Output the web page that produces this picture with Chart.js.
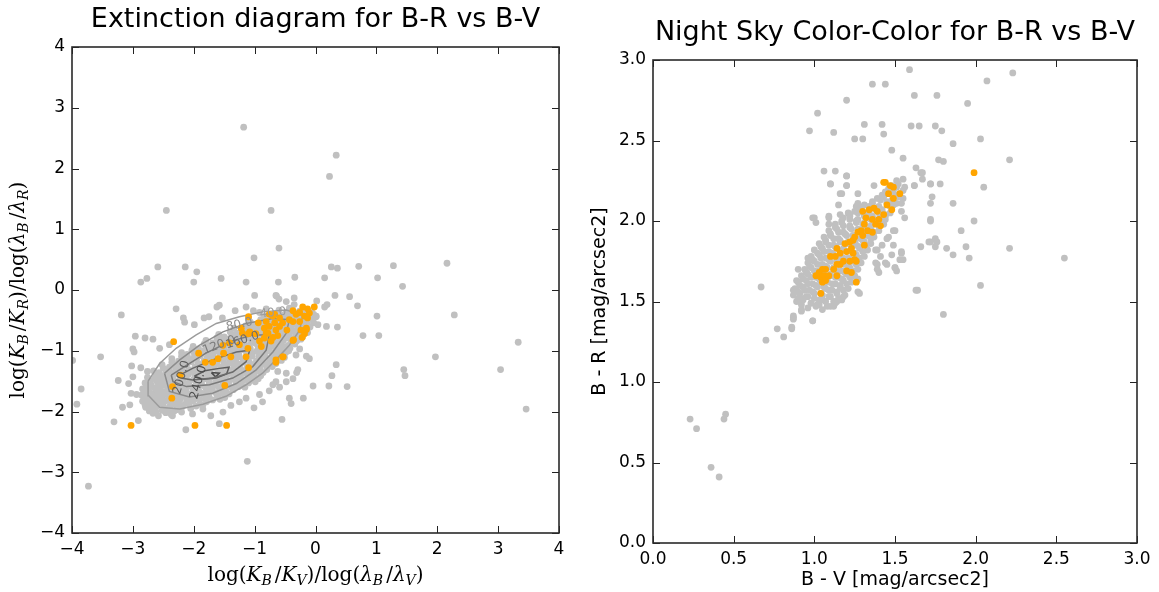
<!DOCTYPE html>
<html>
<head>
<meta charset="utf-8">
<title>Extinction diagram / Night Sky Color-Color</title>
<script src="https://cdn.jsdelivr.net/npm/chart.js@4.4.1/dist/chart.umd.min.js"></script>
<style>
  html, body { margin: 0; padding: 0; background: #fff; }
  #wrap { position: relative; width: 1159px; height: 592px; overflow: hidden; }
  canvas { position: absolute; top: 0; }
  #left { left: 0; }
  #right { left: 580px; }
</style>
</head>
<body>
<div id="wrap">
  <canvas id="left" width="580" height="592"></canvas>
  <canvas id="right" width="579" height="592"></canvas>
</div>
<script>
'use strict';

/* ============ data: extinction diagram (left) ============ */

const extTicks = [-4, -3, -2, -1, 0, 1, 2, 3, 4];

// scattered nights outside the dense core
const extGrayOut = [
  [-1.18,2.68],[0.34,2.22],[0.23,1.87],[-2.45,1.31],[-0.73,1.31],[-0.6,0.69],[-1.01,0.53],[-2.59,0.38],
  [-2.14,0.38],[-1.95,0.3],[-2.87,0.13],[-2.77,0.19],[-2.0,0.13],[-1.55,0.19],[-1.14,0.13],[-0.61,0.13],
  [-0.34,0.21],[0.26,0.38],[0.36,0.36],[0.71,0.39],[1.28,0.4],[2.16,0.44],[1.02,0.2],[1.43,0.06],
  [0.15,0.2],[-1.0,-0.09],[-0.64,-0.1],[0.32,-0.09],[0.56,-0.11],[0.69,-0.26],[0.19,-0.24],[0.02,-0.18],
  [1.01,-0.43],[2.28,-0.41],[0.78,-0.75],[1.04,-0.75],[0.36,-0.61],[0.18,-0.6],[3.33,-0.86],[1.97,-1.1],
  [1.45,-1.31],[1.47,-1.41],[3.04,-1.31],[3.46,-1.96],[0.34,-1.23],[0.27,-1.41],[0.52,-1.59],[0.22,-1.58],
  [-0.04,-1.58],[-0.2,-1.78],[-0.55,-2.13],[-0.4,-1.87],[-1.12,-2.82],[-3.73,-3.23],[-3.85,-1.63],[-3.92,-1.88],
  [-3.53,-1.1],[-3.99,-1.16],[-3.19,-0.41],[-2.96,-0.76],[-3.31,-2.17],[-2.91,-2.15],[-3.17,-1.93],[-3.24,-1.49],
  [-3.07,-1.54],[-3.03,-1.7],[-3.05,-1.89],[-3.02,-1.25],[-3.0,-1.43],[-2.13,-2.3],[-1.58,-2.2],
  [-2.29,-0.31],[-2.17,-0.46],[-2.15,-0.53],[-1.99,-0.57],[-1.83,-0.46],[-1.75,-0.44],[-1.62,-0.28],[-1.58,-0.25],
  [-1.53,-0.46],[-1.32,-0.34],[-1.1,-0.47],[-1.02,-0.34],[-0.81,-0.31],[-0.65,-0.09],[-0.6,-0.15],[-0.35,-0.13],
  [-0.35,-0.24],[-0.43,-0.3],[-0.15,-0.49],[-0.04,-0.47],[0.04,-0.57],[0.01,-0.44],[-0.37,-0.84],[-0.26,-0.97],
  [-0.32,-1.07],[-0.15,-1.09],[-0.1,-1.13],[-0.29,-1.31],[-0.31,-1.36],[-0.48,-1.37],[-0.62,-1.34],[-0.65,-1.51],
  [-0.7,-1.56],[-0.76,-1.66],[-0.92,-1.72],[-1.01,-1.94],[-1.25,-1.84],[-2.8,-0.79],[-2.67,-0.81],[-2.56,-0.96],
  [-2.4,-0.9],[-3.0,-0.97],[-2.98,-1.02],[-2.87,-1.28],[-2.76,-1.34],[-2.94,-1.72],[-2.81,-1.84],[-2.65,-1.96],
  [-2.46,-2.01],[-2.35,-2.07],[-2.02,-2.04],[-1.85,-1.96],[-1.72,-2.07],[-1.52,-2.01],[-1.39,-1.9],[-1.14,-1.78],
  [-0.87,-1.84],[-0.59,-1.6],[-0.48,-1.51],[-0.37,-1.46],[-0.43,-1.78],[-1.14,-0.28],[-0.92,-0.37],[-0.48,-0.19],
  [0.15,-0.28]
];

// the dense band of nights
const extGrayCore = [
  [-2.67,-2.03],[-2.58,-2.07],[-2.46,-2.02],[-2.37,-2.05],
  [-2.79,-1.93],[-2.69,-1.98],[-2.61,-1.92],[-2.5,-1.96],[-2.41,-1.95],[-2.28,-1.97],[-2.19,-1.92],[-2.05,-1.95],
  [-2.84,-1.83],[-2.75,-1.88],[-2.64,-1.84],[-2.56,-1.85],[-2.45,-1.82],[-2.34,-1.88],[-2.25,-1.84],[-2.12,-1.85],[-2.03,-1.83],[-1.9,-1.88],[-1.79,-1.84],
  [-2.86,-1.73],[-2.77,-1.76],[-2.69,-1.74],[-2.57,-1.75],[-2.48,-1.72],[-2.4,-1.77],[-2.27,-1.74],[-2.19,-1.75],[-2.06,-1.73],[-1.97,-1.78],[-1.84,-1.72],[-1.75,-1.76],[-1.61,-1.75],[-1.49,-1.77],
  [-2.84,-1.63],[-2.74,-1.66],[-2.62,-1.64],[-2.54,-1.67],[-2.42,-1.63],[-2.34,-1.65],[-2.22,-1.62],[-2.13,-1.67],[-2.01,-1.64],[-1.92,-1.65],[-1.79,-1.63],[-1.7,-1.66],[-1.57,-1.62],[-1.47,-1.67],[-1.35,-1.64],
  [-2.8,-1.53],[-2.7,-1.56],[-2.58,-1.54],[-2.5,-1.57],[-2.37,-1.52],[-2.29,-1.56],[-2.16,-1.54],[-2.08,-1.57],[-1.96,-1.53],[-1.87,-1.56],[-1.74,-1.54],[-1.65,-1.57],[-1.52,-1.53],[-1.43,-1.56],[-1.3,-1.54],[-1.21,-1.57],[-1.1,-1.53],
  [-2.76,-1.44],[-2.64,-1.46],[-2.55,-1.43],[-2.43,-1.47],[-2.34,-1.44],[-2.22,-1.46],[-2.13,-1.42],[-2.0,-1.47],[-1.92,-1.44],[-1.79,-1.46],[-1.7,-1.43],[-1.57,-1.47],[-1.48,-1.43],[-1.35,-1.46],[-1.26,-1.44],[-1.13,-1.47],[-1.04,-1.43],[-0.94,-1.46],
  [-2.66,-1.33],[-2.57,-1.36],[-2.45,-1.34],[-2.36,-1.37],[-2.24,-1.33],[-2.15,-1.35],[-2.03,-1.34],[-1.94,-1.37],[-1.82,-1.32],[-1.73,-1.36],[-1.6,-1.34],[-1.51,-1.37],[-1.39,-1.33],[-1.3,-1.35],[-1.17,-1.34],[-1.08,-1.37],[-0.95,-1.33],[-0.86,-1.36],
  [-2.52,-1.23],[-2.4,-1.27],[-2.32,-1.24],[-2.19,-1.25],[-2.11,-1.22],[-1.98,-1.27],[-1.89,-1.24],[-1.77,-1.25],[-1.68,-1.23],[-1.55,-1.27],[-1.47,-1.24],[-1.34,-1.26],[-1.25,-1.22],[-1.12,-1.27],[-1.03,-1.24],[-0.91,-1.25],[-0.82,-1.23],[-0.71,-1.26],
  [-2.36,-1.13],[-2.25,-1.17],[-2.16,-1.14],[-2.04,-1.16],[-1.95,-1.12],[-1.83,-1.17],[-1.74,-1.14],[-1.61,-1.15],[-1.53,-1.13],[-1.4,-1.17],[-1.31,-1.14],[-1.18,-1.16],[-1.1,-1.12],[-0.97,-1.17],[-0.88,-1.14],[-0.75,-1.15],[-0.67,-1.13],[-0.56,-1.16],
  [-2.2,-1.03],[-2.11,-1.06],[-1.99,-1.04],[-1.9,-1.07],[-1.78,-1.03],[-1.69,-1.05],[-1.56,-1.04],[-1.48,-1.07],[-1.35,-1.02],[-1.26,-1.06],[-1.13,-1.04],[-1.05,-1.05],[-0.92,-1.03],[-0.83,-1.07],[-0.7,-1.04],[-0.61,-1.05],[-0.49,-1.03],
  [-2.01,-0.93],[-1.92,-0.97],[-1.8,-0.94],[-1.71,-0.95],[-1.58,-0.93],[-1.5,-0.97],[-1.37,-0.94],[-1.28,-0.96],[-1.16,-0.92],[-1.07,-0.97],[-0.94,-0.94],[-0.85,-0.95],[-0.73,-0.93],[-0.64,-0.97],[-0.51,-0.94],[-0.42,-0.96],
  [-1.8,-0.83],[-1.69,-0.87],[-1.6,-0.84],[-1.47,-0.85],[-1.39,-0.82],[-1.26,-0.87],[-1.17,-0.84],[-1.05,-0.86],[-0.96,-0.83],[-0.83,-0.87],[-0.74,-0.84],[-0.61,-0.85],[-0.53,-0.83],[-0.4,-0.87],[-0.31,-0.84],
  [-1.59,-0.73],[-1.5,-0.77],[-1.37,-0.74],[-1.29,-0.75],[-1.16,-0.73],[-1.07,-0.77],[-0.95,-0.74],[-0.86,-0.76],[-0.73,-0.72],[-0.64,-0.77],[-0.52,-0.74],[-0.43,-0.75],[-0.3,-0.73],[-0.21,-0.77],
  [-1.34,-0.63],[-1.22,-0.67],[-1.13,-0.64],[-1.01,-0.65],[-0.92,-0.63],[-0.79,-0.67],[-0.71,-0.64],[-0.58,-0.66],[-0.49,-0.62],[-0.36,-0.67],[-0.28,-0.64],[-0.16,-0.65],
  [-1.07,-0.53],[-0.98,-0.57],[-0.86,-0.54],[-0.77,-0.55],[-0.64,-0.53],[-0.56,-0.57],[-0.43,-0.54],[-0.34,-0.56],[-0.21,-0.52],[-0.13,-0.57],[-0.03,-0.54],
  [-0.84,-0.43],[-0.72,-0.47],[-0.63,-0.44],[-0.51,-0.45],[-0.42,-0.43],[-0.29,-0.47],[-0.2,-0.44],[-0.08,-0.46],[0.01,-0.43],
  [-0.6,-0.33],[-0.48,-0.37],[-0.39,-0.34],[-0.26,-0.35],[-0.17,-0.33],[-0.06,-0.37]
];

// more nights sitting between the rows above (the core is nearly solid)
const extGrayFill = [
  [-2.73,-1.99],[-2.62,-2.01],[-2.52,-1.98],[-2.41,-2.0],[-2.32,-1.99],[-2.2,-2.01],
  [-2.8,-1.89],[-2.7,-1.91],[-2.59,-1.88],[-2.5,-1.9],[-2.39,-1.91],[-2.29,-1.89],[-2.18,-1.9],[-2.08,-1.88],[-1.96,-1.91],[-1.85,-1.89],
  [-2.81,-1.79],[-2.72,-1.81],[-2.61,-1.78],[-2.52,-1.8],[-2.42,-1.81],[-2.31,-1.79],[-2.22,-1.8],[-2.11,-1.78],[-2.0,-1.81],[-1.9,-1.8],[-1.8,-1.79],[-1.69,-1.81],[-1.57,-1.8],
  [-2.8,-1.69],[-2.69,-1.71],[-2.59,-1.7],[-2.48,-1.68],[-2.38,-1.71],[-2.28,-1.69],[-2.17,-1.7],[-2.07,-1.71],[-1.96,-1.68],[-1.86,-1.7],[-1.75,-1.71],[-1.64,-1.69],[-1.53,-1.7],[-1.42,-1.71],
  [-2.77,-1.59],[-2.65,-1.61],[-2.55,-1.6],[-2.44,-1.58],[-2.34,-1.61],[-2.23,-1.59],[-2.12,-1.6],[-2.02,-1.61],[-1.92,-1.58],[-1.81,-1.6],[-1.7,-1.61],[-1.59,-1.59],[-1.48,-1.6],[-1.37,-1.61],[-1.26,-1.59],[-1.16,-1.6],
  [-2.72,-1.49],[-2.6,-1.51],[-2.5,-1.5],[-2.39,-1.48],[-2.28,-1.51],[-2.18,-1.49],[-2.07,-1.5],[-1.96,-1.51],[-1.86,-1.48],[-1.75,-1.5],[-1.64,-1.51],[-1.53,-1.49],[-1.42,-1.5],[-1.31,-1.51],[-1.2,-1.49],[-1.09,-1.5],[-0.99,-1.51],
  [-2.62,-1.39],[-2.51,-1.41],[-2.4,-1.4],[-2.3,-1.38],[-2.19,-1.41],[-2.09,-1.39],[-1.98,-1.4],[-1.87,-1.41],[-1.77,-1.38],[-1.66,-1.4],[-1.55,-1.41],[-1.44,-1.39],[-1.34,-1.4],[-1.23,-1.41],[-1.12,-1.39],[-1.01,-1.4],[-0.9,-1.41],
  [-2.5,-1.29],[-2.4,-1.31],[-2.29,-1.3],[-2.19,-1.28],[-2.08,-1.31],[-1.97,-1.29],[-1.87,-1.3],[-1.76,-1.31],[-1.66,-1.28],[-1.55,-1.3],[-1.44,-1.31],[-1.34,-1.29],[-1.23,-1.3],[-1.12,-1.31],[-1.01,-1.29],[-0.91,-1.3],[-0.8,-1.31],
  [-2.36,-1.19],[-2.25,-1.21],[-2.15,-1.2],[-2.04,-1.18],[-1.93,-1.21],[-1.83,-1.19],[-1.72,-1.2],[-1.62,-1.21],[-1.51,-1.18],[-1.4,-1.2],[-1.3,-1.21],[-1.19,-1.19],[-1.08,-1.2],[-0.98,-1.21],[-0.87,-1.19],[-0.76,-1.2],[-0.65,-1.21],
  [-2.2,-1.09],[-2.1,-1.11],[-1.99,-1.1],[-1.89,-1.08],[-1.78,-1.11],[-1.68,-1.09],[-1.57,-1.1],[-1.46,-1.11],[-1.36,-1.08],[-1.25,-1.1],[-1.14,-1.11],[-1.04,-1.09],[-0.93,-1.1],[-0.82,-1.11],[-0.71,-1.09],[-0.61,-1.1],[-0.51,-1.11],
  [-2.03,-0.99],[-1.93,-1.01],[-1.82,-1.0],[-1.72,-0.98],[-1.61,-1.01],[-1.51,-0.99],[-1.4,-1.0],[-1.29,-1.01],[-1.19,-0.98],[-1.08,-1.0],[-0.97,-1.01],[-0.87,-0.99],[-0.76,-1.0],[-0.65,-1.01],[-0.55,-0.99],[-0.44,-1.0],
  [-1.83,-0.89],[-1.73,-0.91],[-1.62,-0.9],[-1.52,-0.88],[-1.41,-0.91],[-1.3,-0.89],[-1.2,-0.9],[-1.09,-0.91],[-0.98,-0.88],[-0.88,-0.9],[-0.77,-0.91],[-0.66,-0.89],[-0.56,-0.9],[-0.45,-0.91],[-0.34,-0.89],
  [-1.62,-0.79],[-1.52,-0.81],[-1.41,-0.8],[-1.31,-0.78],[-1.2,-0.81],[-1.1,-0.79],[-0.99,-0.8],[-0.88,-0.81],[-0.78,-0.78],[-0.67,-0.8],[-0.56,-0.81],[-0.46,-0.79],[-0.35,-0.8],[-0.24,-0.81],
  [-1.4,-0.69],[-1.29,-0.71],[-1.18,-0.7],[-1.08,-0.68],[-0.97,-0.71],[-0.86,-0.69],[-0.76,-0.7],[-0.65,-0.71],[-0.54,-0.68],[-0.44,-0.7],[-0.33,-0.71],[-0.22,-0.69],[-0.13,-0.7],
  [-1.15,-0.59],[-1.04,-0.61],[-0.94,-0.6],[-0.83,-0.58],[-0.72,-0.61],[-0.62,-0.59],[-0.51,-0.6],[-0.4,-0.61],[-0.3,-0.58],[-0.19,-0.6],[-0.09,-0.61],
  [-0.9,-0.49],[-0.79,-0.51],[-0.68,-0.5],[-0.58,-0.48],[-0.47,-0.51],[-0.36,-0.49],[-0.26,-0.5],[-0.15,-0.51],[-0.05,-0.49],
  [-0.66,-0.39],[-0.55,-0.41],[-0.44,-0.4],[-0.34,-0.38],[-0.23,-0.41],[-0.12,-0.39],[-0.03,-0.4]
];

// nights flagged in orange
const extOrange = [
  [-3.03,-2.23],[-1.98,-2.23],[-1.46,-2.23],[-1.49,-1.57],[-2.33,-0.85],[-2.35,-1.59],[-2.36,-1.78],[-2.22,-1.4],
  [-1.92,-1.04],[-1.81,-1.19],[-1.69,-1.19],[-1.6,-1.13],[-1.51,-1.04],[-1.39,-1.1],[-1.52,-0.91],[-1.41,-0.87],
  [-1.25,-0.9],[-1.22,-0.63],[-1.1,-0.44],[-1.1,-0.72],[-1.1,-1.28],[-0.94,-0.54],[-0.98,-0.72],[-0.92,-0.84],
  [-0.89,-0.93],[-1.14,-1.1],[-1.11,-0.96],[-1.2,-0.71],[-1.08,-0.69],[-0.81,-0.71],[-0.65,-1.15],[-0.54,-1.1],
  [-0.84,-0.63],[-0.81,-0.52],[-0.76,-0.4],[-0.7,-0.43],[-0.67,-0.54],[-0.65,-0.66],[-0.62,-0.75],[-0.7,-0.78],
  [-0.76,-0.6],[-0.59,-0.6],[-0.54,-0.54],[-0.67,-0.4],[-0.78,-0.71],[-0.84,-0.79],[-0.73,-0.84],[-0.65,-1.19],
  [-0.53,-1.1],[-0.37,-0.34],[-0.32,-0.4],[-0.26,-0.37],[-0.18,-0.43],[-0.13,-0.31],[-0.21,-0.28],[-0.02,-0.28],
  [-0.1,-0.38],[-0.13,-0.46],[-0.26,-0.52],[-0.37,-0.52],[-0.43,-0.49],[-0.24,-0.66],[-0.18,-0.72],[-0.15,-0.63],
  [-0.37,-0.83],[-0.22,-0.78],[-0.47,-0.66],[-0.59,-0.46],[-0.36,-0.82],[-0.15,-0.65]
];

// density contours of the core (levels 40 ... 240)
const extContour40 = [
  [-2.75,-1.5],[-2.56,-1.21],[-2.29,-0.96],[-1.96,-0.74],[-1.63,-0.55],[-1.25,-0.44],[-0.87,-0.36],[-0.48,-0.33],
  [-0.21,-0.41],[-0.26,-0.66],[-0.43,-0.91],[-0.65,-1.15],[-0.87,-1.37],[-1.14,-1.56],[-1.47,-1.75],[-1.85,-1.88],
  [-2.23,-1.96],[-2.56,-1.93],[-2.74,-1.74],[-2.75,-1.5]
];
const extContour80 = [
  [-2.48,-1.37],[-2.23,-1.15],[-1.91,-0.91],[-1.52,-0.69],[-1.14,-0.55],[-0.7,-0.47],[-0.43,-0.49],[-0.48,-0.71],
  [-0.7,-1.02],[-0.98,-1.32],[-1.3,-1.54],[-1.69,-1.7],[-2.07,-1.76],[-2.4,-1.67],[-2.48,-1.37]
];
const extContour120 = [
  [-2.37,-1.4],[-2.12,-1.24],[-1.8,-1.04],[-1.41,-0.85],[-1.03,-0.74],[-0.76,-0.74],[-0.81,-0.99],[-1.03,-1.26],
  [-1.36,-1.45],[-1.74,-1.56],[-2.12,-1.59],[-2.34,-1.51],[-2.37,-1.4]
];
const extContour160 = [
  [-2.23,-1.4],[-2.02,-1.29],[-1.69,-1.15],[-1.3,-1.02],[-1.08,-0.99],[-1.14,-1.18],[-1.36,-1.35],[-1.69,-1.45],
  [-2.02,-1.48],[-2.21,-1.45],[-2.23,-1.4]
];
const extContour200 = [
  [-1.99,-1.42],[-1.82,-1.33],[-1.58,-1.29],[-1.42,-1.27],[-1.46,-1.38],[-1.63,-1.45],[-1.85,-1.47],[-1.99,-1.42]
];
const extContour240 = [
  [-1.71,-1.36],[-1.58,-1.37],[-1.64,-1.43],[-1.71,-1.36]
];
const extContourLevels = ['40.0', '80.0', '120.0', '160.0', '200.0', '240.0'];
const extContourColors = ['#9c9c9c', '#8c8c8c', '#7b7b7b', '#6b6b6b', '#5c5c5c', '#4c4c4c'];
// where matplotlib placed the inline level labels: [x, y, rotation rad]
const extContourLabelAt = [
  [-0.7, -0.38, -0.1], [-1.25, -0.57, -0.22], [-1.58, -0.91, -0.35], [-1.2, -0.83, -0.3],
  [-2.2, -1.44, -1.3], [-1.92, -1.52, -1.3]
];

/* ============ data: night sky color-color (right) ============ */

const nsTicks = [0, 0.5, 1.0, 1.5, 2.0, 2.5, 3.0];

const nsGrayOut = [
  [1.59,2.94],[2.23,2.92],[2.07,2.87],[1.36,2.85],[1.44,2.85],[1.2,2.75],[1.62,2.78],[1.76,2.78],[1.95,2.73],
  [1.02,2.67],[1.31,2.6],[1.42,2.6],[1.6,2.59],[1.65,2.59],[1.75,2.59],[1.79,2.56],[0.97,2.56],[1.12,2.55],
  [1.25,2.51],[1.3,2.51],[1.43,2.54],[1.86,2.48],[2.03,2.51],[1.48,2.44],[1.55,2.39],[2.21,2.38],[1.77,2.38],
  [1.8,2.37],[1.63,2.33],[1.66,2.3],[1.67,2.26],[1.06,2.31],[1.13,2.31],[1.2,2.28],[1.1,2.23],[1.2,2.22],
  [1.62,2.22],[1.72,2.23],[1.78,2.23],[2.05,2.21],[1.17,2.17],[1.73,2.15],[1.72,2.11],[1.86,2.11],[1.54,2.11],
  [1.26,2.09],[1.54,2.06],[1.56,2.02],[1.72,2.0],[1.99,2.0],[0.99,2.02],[1.01,1.99],[1.09,2.02],[1.91,1.94],
  [1.49,1.94],[1.45,1.89],[1.71,1.87],[1.75,1.89],[1.75,1.84],[1.82,1.83],[1.94,1.84],[2.21,1.83],[1.86,1.79],
  [1.96,1.77],[2.55,1.77],[1.49,1.85],[1.38,1.82],[1.42,1.85],[1.48,1.79],[1.54,1.8],[1.55,1.76],[1.44,1.74],
  [1.39,1.73],[1.5,1.71],[1.51,1.69],[1.4,1.68],[2.03,1.6],[1.63,1.57],[1.8,1.42],[1.28,1.55],[1.18,1.53],
  [1.12,1.47],[0.67,1.59],[0.7,1.26],[0.81,1.28],[0.77,1.33],[0.86,1.33],[0.87,1.39],[0.87,1.4],[0.92,1.44],
  [0.99,1.38],[0.23,0.77],[0.27,0.71],[0.45,0.8],[0.44,0.77],[0.36,0.47],[0.41,0.41],[0.89,1.57],
  [0.87,1.41],[0.86,1.34],[0.99,1.38],[0.92,1.45],[0.9,1.7],[0.96,1.77],[1.0,2.02],[1.09,2.03],[1.09,1.98],
  [1.1,2.23],[1.2,2.22],[1.16,2.17],[1.2,2.28],[1.15,2.1],[1.16,2.04],[1.27,2.17],[1.37,2.22],[1.62,2.22],
  [1.67,2.3],[1.72,2.23],[1.72,2.01],[1.76,1.87],[1.72,1.87],[1.55,2.14],[1.51,2.11],[1.5,1.94],[1.46,1.9],
  [1.39,1.82],[1.41,1.78],[1.38,1.74],[1.39,1.7],[1.45,1.73],[1.5,1.71],[1.54,1.81],[1.53,1.76],[1.27,1.64],
  [1.27,1.56],[1.14,1.5],[1.02,1.48],[0.92,1.52],[0.87,1.57],[0.89,1.63],[1.64,1.57],[1.21,2.05],[1.27,2.11],
  [1.66,1.84]
];

const nsGrayCore = [
  [0.96,1.46],[1.01,1.47],[1.05,1.45],[1.1,1.47],
  [0.89,1.5],[0.93,1.51],[0.98,1.49],[1.03,1.51],[1.07,1.5],[1.12,1.5],[1.17,1.51],
  [0.87,1.54],[0.91,1.55],[0.96,1.53],[1.0,1.55],[1.05,1.54],[1.09,1.53],[1.14,1.55],[1.19,1.54],
  [0.88,1.58],[0.93,1.59],[0.97,1.57],[1.02,1.59],[1.07,1.58],[1.11,1.57],[1.16,1.59],[1.21,1.58],
  [0.9,1.62],[0.95,1.63],[0.99,1.61],[1.04,1.63],[1.08,1.62],[1.13,1.61],[1.18,1.63],[1.23,1.62],
  [0.92,1.66],[0.96,1.67],[1.01,1.65],[1.06,1.67],[1.1,1.66],[1.15,1.65],[1.2,1.67],[1.25,1.66],
  [0.94,1.7],[0.98,1.71],[1.03,1.69],[1.08,1.71],[1.12,1.7],[1.17,1.69],[1.22,1.71],[1.27,1.7],
  [0.96,1.74],[1.0,1.75],[1.05,1.73],[1.1,1.75],[1.14,1.74],[1.19,1.73],[1.24,1.75],[1.29,1.74],
  [0.98,1.78],[1.03,1.79],[1.07,1.77],[1.12,1.79],[1.16,1.78],[1.21,1.77],[1.26,1.79],[1.31,1.78],
  [1.0,1.82],[1.05,1.83],[1.09,1.81],[1.14,1.83],[1.18,1.82],[1.23,1.81],[1.28,1.83],[1.33,1.82],
  [1.03,1.86],[1.07,1.87],[1.12,1.85],[1.16,1.87],[1.21,1.86],[1.26,1.85],[1.31,1.87],[1.35,1.86],
  [1.06,1.9],[1.1,1.91],[1.15,1.89],[1.2,1.91],[1.24,1.9],[1.29,1.89],[1.33,1.91],[1.37,1.9],
  [1.09,1.94],[1.14,1.95],[1.18,1.93],[1.23,1.95],[1.27,1.94],[1.31,1.93],[1.35,1.95],[1.4,1.94],
  [1.13,1.98],[1.17,1.99],[1.22,1.97],[1.26,1.99],[1.3,1.98],[1.35,1.97],[1.39,1.99],[1.43,1.98],
  [1.18,2.02],[1.22,2.03],[1.27,2.01],[1.31,2.03],[1.36,2.02],[1.4,2.01],[1.44,2.03],
  [1.25,2.06],[1.29,2.07],[1.34,2.05],[1.38,2.07],[1.42,2.06],[1.47,2.05],
  [1.31,2.1],[1.36,2.11],[1.4,2.09],[1.45,2.11],[1.49,2.1],
  [1.39,2.14],[1.43,2.15],[1.48,2.13],[1.52,2.15],
  [1.44,2.18],[1.49,2.19],[1.53,2.17],
  [1.48,2.22],[1.52,2.23],[1.56,2.21],
  [1.51,2.25],[1.55,2.26]
];

const nsGrayFill = [
  [0.92,1.48],[0.98,1.49],[1.03,1.48],[1.08,1.47],[1.13,1.49],
  [0.9,1.52],[0.95,1.53],[1.0,1.52],[1.05,1.51],[1.1,1.53],[1.15,1.52],
  [0.9,1.56],[0.94,1.57],[0.99,1.56],[1.04,1.55],[1.09,1.57],[1.14,1.56],[1.18,1.57],
  [0.91,1.6],[0.96,1.61],[1.01,1.6],[1.06,1.59],[1.11,1.61],[1.16,1.6],[1.2,1.61],
  [0.93,1.64],[0.98,1.65],[1.03,1.64],[1.08,1.63],[1.13,1.65],[1.17,1.64],[1.22,1.65],
  [0.95,1.68],[1.0,1.69],[1.05,1.68],[1.1,1.67],[1.14,1.69],[1.19,1.68],[1.24,1.69],
  [0.97,1.72],[1.02,1.73],[1.07,1.72],[1.12,1.71],[1.16,1.73],[1.21,1.72],[1.26,1.73],
  [0.99,1.76],[1.04,1.77],[1.09,1.76],[1.14,1.75],[1.18,1.77],[1.23,1.76],[1.28,1.77],
  [1.02,1.8],[1.06,1.81],[1.11,1.8],[1.16,1.79],[1.2,1.81],[1.25,1.8],[1.3,1.81],
  [1.04,1.84],[1.09,1.85],[1.13,1.84],[1.18,1.83],[1.23,1.85],[1.28,1.84],[1.32,1.85],
  [1.07,1.88],[1.12,1.89],[1.16,1.88],[1.21,1.87],[1.26,1.89],[1.3,1.88],[1.35,1.89],
  [1.1,1.92],[1.15,1.93],[1.19,1.92],[1.24,1.91],[1.29,1.93],[1.33,1.92],[1.37,1.93],
  [1.13,1.96],[1.18,1.97],[1.22,1.96],[1.27,1.95],[1.31,1.97],[1.35,1.96],[1.4,1.97],
  [1.17,2.0],[1.22,2.01],[1.26,2.0],[1.31,1.99],[1.35,2.01],[1.4,2.0],[1.44,2.01],
  [1.22,2.04],[1.27,2.05],[1.31,2.04],[1.36,2.03],[1.4,2.05],[1.44,2.04],
  [1.29,2.08],[1.34,2.09],[1.38,2.08],[1.42,2.07],[1.47,2.09],
  [1.36,2.12],[1.41,2.13],[1.45,2.12],[1.5,2.11],
  [1.42,2.16],[1.46,2.17],[1.5,2.16],
  [1.46,2.2],[1.51,2.21],[1.55,2.19]
];

const nsOrange = [
  [1.99,2.3],[1.43,2.24],[1.44,2.24],[1.47,2.22],[1.49,2.21],[1.53,2.17],[1.46,2.17],[1.49,2.14],[1.45,2.1],
  [1.48,2.07],[1.3,2.06],[1.34,2.07],[1.37,2.08],[1.39,2.06],[1.43,2.04],[1.32,2.02],[1.36,2.01],[1.4,2.01],
  [1.38,1.98],[1.41,1.97],[1.31,1.98],[1.29,1.94],[1.33,1.94],[1.36,1.93],[1.27,1.93],[1.3,1.91],[1.25,1.9],
  [1.22,1.87],[1.24,1.88],[1.23,1.83],[1.31,1.85],[1.19,1.86],[1.2,1.81],[1.16,1.8],[1.14,1.83],[1.13,1.78],
  [1.1,1.78],[1.24,1.8],[1.25,1.76],[1.26,1.75],[1.22,1.75],[1.18,1.75],[1.16,1.73],[1.14,1.73],[1.12,1.7],
  [1.07,1.7],[1.05,1.7],[1.03,1.68],[1.01,1.66],[1.04,1.65],[1.06,1.66],[1.09,1.66],[1.14,1.66],[1.05,1.62],
  [1.07,1.63],[1.26,1.62],[1.04,1.55],[1.2,1.69],[1.23,1.68]
];

/* ============ text ============ */

const extTitle = 'Extinction diagram for B-R vs B-V';
const nsTitle = 'Night Sky Color-Color for B-R vs B-V';
const nsXLabel = 'B - V [mag/arcsec2]';
const nsYLabel = 'B - R [mag/arcsec2]';

const SANS = "'DejaVu Sans', sans-serif";
const RM = "20px 'DejaVu Serif', serif";
const IT = "italic 20px 'DejaVu Serif', serif";
const SUB = "italic 14px 'DejaVu Serif', serif";

// log(K_B/K_x)/log(lambda_B/lambda_x) written as mathtext-like pieces
function mathLabel(band) {
  return [
    { text: 'log(', font: RM }, { text: 'K', font: IT }, { text: 'B', font: SUB, dy: 4, gap: 3 },
    { text: '/', font: RM }, { text: 'K', font: IT }, { text: band, font: SUB, dy: 4 },
    { text: ')/log(', font: RM }, { text: 'λ', font: IT }, { text: 'B', font: SUB, dy: 4, gap: 3 },
    { text: '/', font: RM }, { text: 'λ', font: IT }, { text: band, font: SUB, dy: 4 },
    { text: ')', font: RM }
  ];
}

/* ============ helpers ============ */

function pts(list) {
  return list.map(function (p) { return { x: p[0], y: p[1] }; });
}

function drawRich(ctx, parts, x, y, angle) {
  ctx.save();
  ctx.translate(x, y);
  ctx.rotate(angle);
  ctx.textAlign = 'left';
  ctx.textBaseline = 'alphabetic';
  let w = 0;
  parts.forEach(function (p) { ctx.font = p.font; w += ctx.measureText(p.text).width + (p.gap || 0); });
  let cx = -w / 2;
  parts.forEach(function (p) {
    ctx.font = p.font;
    ctx.fillText(p.text, cx, p.dy || 0);
    cx += ctx.measureText(p.text).width + (p.gap || 0);
  });
  ctx.restore();
}

// matplotlib-like frame, inward ticks, title and axis labels
const decor = {
  id: 'decor',
  afterDatasetsDraw(chart, args, o) {
    const ctx = chart.ctx;
    const a = chart.chartArea;
    const xs = chart.scales.x;
    const ys = chart.scales.y;
    ctx.save();

    // contour level labels
    (o.contourLabels || []).forEach(function (l) {
      ctx.save();
      ctx.translate(xs.getPixelForValue(l.x), ys.getPixelForValue(l.y));
      ctx.rotate(l.rot);
      ctx.font = '12px ' + SANS;
      ctx.fillStyle = l.color;
      ctx.textAlign = 'center';
      ctx.textBaseline = 'middle';
      ctx.fillText(l.text, 0, 0);
      ctx.restore();
    });

    // ticks on all four sides, pointing in
    ctx.strokeStyle = '#222';
    ctx.lineWidth = 1;
    ctx.beginPath();
    xs.ticks.forEach(function (t) {
      const px = Math.round(xs.getPixelForValue(t.value)) + 0.5;
      ctx.moveTo(px, a.bottom); ctx.lineTo(px, a.bottom - 7);
      ctx.moveTo(px, a.top); ctx.lineTo(px, a.top + 7);
    });
    ys.ticks.forEach(function (t) {
      const py = Math.round(ys.getPixelForValue(t.value)) + 0.5;
      ctx.moveTo(a.left, py); ctx.lineTo(a.left + 7, py);
      ctx.moveTo(a.right, py); ctx.lineTo(a.right - 7, py);
    });
    ctx.stroke();

    ctx.lineWidth = 1.6;
    ctx.strokeStyle = '#2a2a2a';
    ctx.strokeRect(a.left, a.top, a.right - a.left, a.bottom - a.top);

    // title
    ctx.fillStyle = '#000';
    ctx.font = '27px ' + SANS;
    ctx.textAlign = 'center';
    ctx.textBaseline = 'alphabetic';
    ctx.fillText(o.title, (a.left + a.right) / 2, o.titleBase);

    // axis labels
    const cxm = (a.left + a.right) / 2;
    const cym = (a.top + a.bottom) / 2;
    if (typeof o.xLabel === 'string') {
      ctx.font = '19px ' + SANS;
      ctx.fillText(o.xLabel, cxm, o.xLabelBase);
      ctx.save();
      ctx.translate(o.yLabelBase, cym);
      ctx.rotate(-Math.PI / 2);
      ctx.fillText(o.yLabel, 0, 0);
      ctx.restore();
    } else {
      drawRich(ctx, o.xLabel, cxm, o.xLabelBase, 0);
      drawRich(ctx, o.yLabel, o.yLabelBase, cym, -Math.PI / 2);
    }
    ctx.restore();
  }
};

function axis(min, max, ticks, fmt, size, pad) {
  return {
    type: 'linear',
    min: min,
    max: max,
    afterBuildTicks: function (s) { s.ticks = ticks.map(function (v) { return { value: v }; }); },
    afterFit: function (s) { if (s.isHorizontal()) { s.height = size; } else { s.width = size; } },
    ticks: {
      autoSkip: false,
      maxRotation: 0,
      padding: pad,
      color: '#000',
      font: { family: SANS, size: 17 },
      callback: fmt
    },
    grid: { display: false, drawTicks: false },
    border: { display: false }
  };
}

function scatterSet(list, color, order) {
  return {
    data: pts(list),
    backgroundColor: color,
    borderWidth: 0,
    pointRadius: 3.4,
    pointHoverRadius: 3.4,
    order: order
  };
}

function contourSet(list, color) {
  return {
    data: pts(list),
    showLine: true,
    borderColor: color,
    borderWidth: 1.5,
    pointRadius: 0,
    pointHoverRadius: 0,
    fill: false,
    tension: 0,
    order: 2
  };
}

const minusFmt = function (v) { return (v < 0 ? '\u2212' : '') + Math.abs(v); };
const oneDec = function (v) { return Number(v).toFixed(1); };

/* ============ left chart ============ */

const extContours = [extContour40, extContour80, extContour120, extContour160, extContour200, extContour240];

new Chart(document.getElementById('left'), {
  type: 'scatter',
  data: {
    datasets: [
      scatterSet(extOrange, '#ffa500', 1)
    ].concat(extContours.map(function (c, i) { return contourSet(c, extContourColors[i]); }))
     .concat([
       scatterSet(extGrayCore, '#c0c0c0', 3),
       scatterSet(extGrayFill, '#c0c0c0', 3),
       scatterSet(extGrayOut, '#c0c0c0', 3)
     ])
  },
  options: {
    responsive: false,
    animation: false,
    events: [],
    layout: { padding: { left: 0, right: 21, top: 47, bottom: 0 } },
    plugins: {
      legend: { display: false },
      tooltip: { enabled: false },
      decor: {
        title: extTitle,
        titleBase: 27,
        xLabel: mathLabel('V'),
        yLabel: mathLabel('R'),
        xLabelBase: 581,
        yLabelBase: 24,
        contourLabels: extContourLabelAt.map(function (p, i) {
          return { x: p[0], y: p[1], rot: p[2], text: extContourLevels[i], color: extContourColors[i] };
        })
      }
    },
    scales: {
      x: axis(-4, 4, extTicks, minusFmt, 59, 6),
      y: axis(-4, 4, extTicks, minusFmt, 72, 7)
    }
  },
  plugins: [decor]
});

/* ============ right chart ============ */

new Chart(document.getElementById('right'), {
  type: 'scatter',
  data: {
    datasets: [
      scatterSet(nsOrange, '#ffa500', 1),
      scatterSet(nsGrayCore, '#c0c0c0', 3),
      scatterSet(nsGrayFill, '#c0c0c0', 3),
      scatterSet(nsGrayOut, '#c0c0c0', 3)
    ]
  },
  options: {
    responsive: false,
    animation: false,
    events: [],
    layout: { padding: { left: 0, right: 22, top: 60, bottom: 0 } },
    plugins: {
      legend: { display: false },
      tooltip: { enabled: false },
      decor: {
        title: nsTitle,
        titleBase: 40,
        xLabel: nsXLabel,
        yLabel: nsYLabel,
        xLabelBase: 585,
        yLabelBase: 25
      }
    },
    scales: {
      x: axis(0, 3, nsTicks, oneDec, 49, 6),
      y: axis(0, 3, nsTicks, oneDec, 73, 7)
    }
  },
  plugins: [decor]
});
</script>
</body>
</html>
